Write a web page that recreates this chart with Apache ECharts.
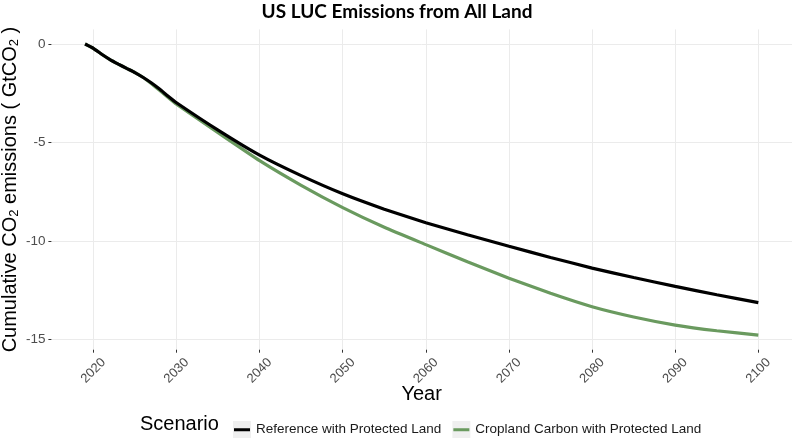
<!DOCTYPE html>
<html>
<head>
<meta charset="utf-8">
<script src="https://cdn.jsdelivr.net/npm/echarts@6/dist/echarts.min.js"></script>
<style>
html,body{margin:0;padding:0;background:#fff;}
#chart{width:794px;height:439px;}
</style>
</head>
<body>
<div id="chart"></div>
<script>
const years = [2019,2020,2021,2022,2023,2024,2025,2026,2027,2028,2029,2030,2035,2040,2045,2050,2055,2060,2065,2070,2075,2080,2085,2090,2095,2100];
const referenceValues = [0,-0.22,-0.52,-0.79,-1.02,-1.24,-1.45,-1.7,-1.98,-2.3,-2.65,-2.98,-4.37,-5.64,-6.68,-7.6,-8.38,-9.07,-9.68,-10.26,-10.83,-11.37,-11.85,-12.3,-12.72,-13.12];
const croplandValues = [0,-0.22,-0.52,-0.79,-1.02,-1.24,-1.45,-1.7,-2.02,-2.36,-2.72,-3.06,-4.5,-5.92,-7.17,-8.3,-9.3,-10.18,-11.05,-11.88,-12.65,-13.33,-13.85,-14.26,-14.55,-14.77];
const seriesNames = ['Reference with Protected Land','Cropland Carbon with Protected Land'];
const xTicks = [2020,2030,2040,2050,2060,2070,2080,2090,2100];
const yTicks = [0,-5,-10,-15];

const chart = echarts.init(document.getElementById('chart'), null, {renderer:'canvas'});
const tickColor = '#4d4d4d';
const gridColor = '#ebebeb';
const font = 'Liberation Sans, Arial, sans-serif';
const legendCommon = {
  orient:'horizontal', left:228, top:416,
  itemWidth:18, itemHeight:17, itemGap:11,
  data: seriesNames,
  selectedMode:false,
  textStyle:{fontFamily:font, fontSize:13.5, color:'#1a1a1a'}
};
const lineIcon = 'path://M0,0h0.01v0.01h-0.01z M1,7.2h16v3h-16z M17.99,16.99h0.01v0.01h-0.01z';
chart.setOption({
  animation:false,
  title:[
    {text:'US LUC Emissions from All Land', left:'center', top:2, padding:0,
     textStyle:{fontFamily:'Lato, sans-serif', fontWeight:'bold', fontSize:19, color:'#000'}},
    {text:'Scenario', left:140, top:414.5, padding:0,
     textStyle:{fontFamily:font, fontWeight:'normal', fontSize:20, color:'#000'}}
  ],
  grid:{left:51.4, right:2, top:29.4, bottom:89.3, containLabel:false, outerBoundsMode:'none'},
  legend:[
    Object.assign({}, legendCommon, {icon:'rect', itemStyle:{color:'#efefef'}, textStyle:Object.assign({}, legendCommon.textStyle, {color:'rgba(0,0,0,0)'}), z:1}),
    Object.assign({}, legendCommon, {icon:lineIcon, z:2})
  ],
  xAxis:{
    type:'value', min:2014.95, max:2104.05,
    name:'Year', nameLocation:'middle', nameGap:35, nameMoveOverlap:false,
    nameTextStyle:{fontFamily:font, fontSize:20, color:'#000'},
    axisLine:{show:false, onZero:false},
    axisTick:{show:true, length:3, customValues:xTicks, lineStyle:{color:'#333', width:1}},
    axisLabel:{customValues:xTicks, rotate:45, align:'center', verticalAlign:'middle', margin:21,
      fontFamily:font, fontSize:13, color:tickColor, formatter:v=>String(v)},
    splitLine:{show:true, lineStyle:{color:gridColor, width:1}}
  },
  yAxis:{
    type:'value', min:-15.51, max:0.74,
    name:'Cumulative CO{sub|2} emissions ( GtCO{sub|2} )', nameLocation:'middle', nameGap:30, nameMoveOverlap:false,
    nameTextStyle:{fontFamily:font, fontSize:20, color:'#000',
      rich:{sub:{fontFamily:font, fontSize:13, color:'#000', verticalAlign:'bottom', padding:[8,0,0,0]}}},
    axisLine:{show:false, onZero:false},
    axisTick:{show:true, length:3, customValues:yTicks, lineStyle:{color:'#333', width:1}},
    axisLabel:{customValues:yTicks, margin:6, fontFamily:font, fontSize:13.5, color:tickColor, formatter:v=>String(v)},
    splitLine:{show:true, lineStyle:{color:gridColor, width:1}}
  },
  series:[
    {name:seriesNames[1], type:'line', symbol:'none', smooth:0.15, z:3,
     data:years.map((y,i)=>[y, croplandValues[i]]),
     itemStyle:{color:'#6a9a5f'}, lineStyle:{color:'#6a9a5f', width:3.2}},
    {name:seriesNames[0], type:'line', symbol:'none', smooth:0.15, z:4,
     data:years.map((y,i)=>[y, referenceValues[i]]),
     itemStyle:{color:'#000'}, lineStyle:{color:'#000', width:3.2}}
  ]
});
</script>
</body>
</html>
